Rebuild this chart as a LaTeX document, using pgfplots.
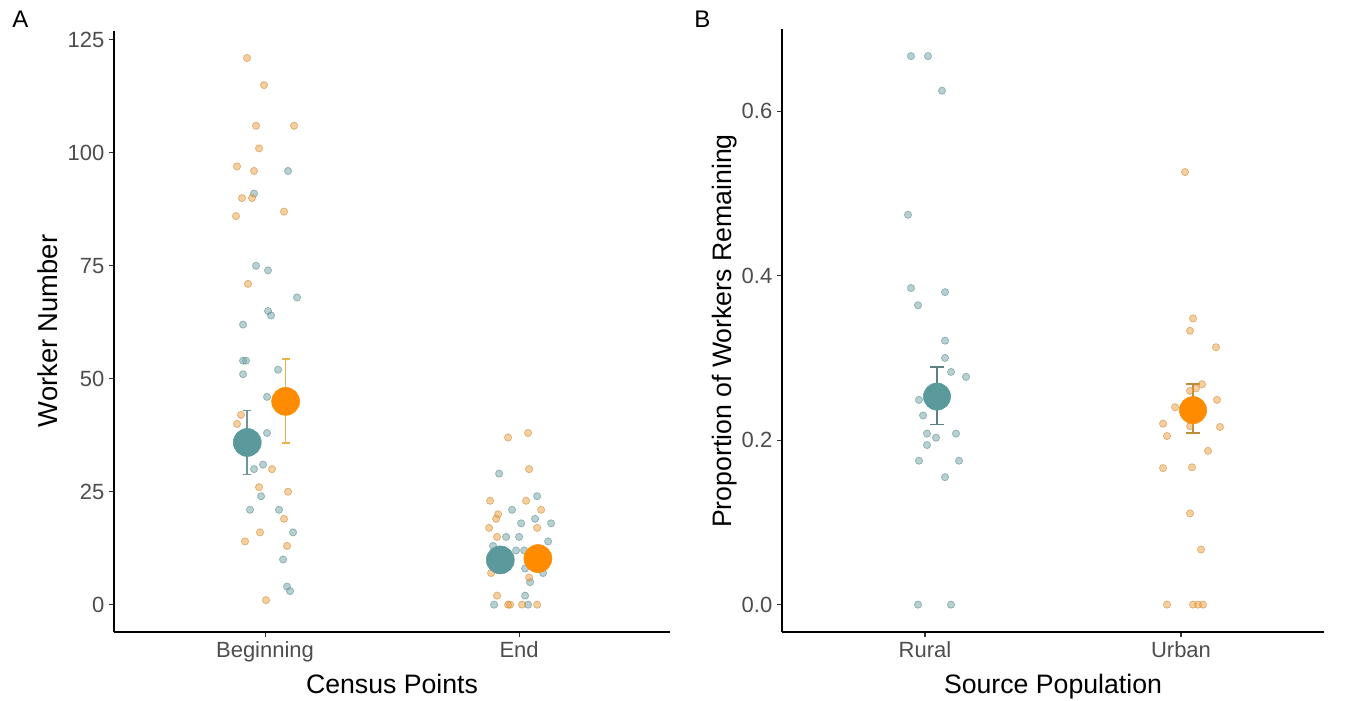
\documentclass[border=0pt]{standalone}
\usepackage{pgfplots}
\pgfplotsset{compat=1.18}
\usepackage{fontspec}
\setmainfont{Liberation Sans}
\definecolor{tealM}{HTML}{5A9A9C}
\definecolor{orgM}{HTML}{FF8C00}
\definecolor{tealP}{HTML}{6FA3A8}
\definecolor{orgP}{HTML}{F0A040}
\definecolor{tealE}{HTML}{6F959B}
\definecolor{orgE}{HTML}{EDB24A}
\definecolor{tickc}{HTML}{333333}
\definecolor{labc}{HTML}{4D4D4D}
\pgfplotsset{
  base/.style={
    scale only axis,
    axis x line*=bottom, axis y line*=left,
    axis line style={-, black, line width=0.8pt},
    tick align=outside,
    major tick length=3.75pt,
    tick style={color=tickc, line width=0.8pt},
    ticklabel style={font=\fontsize{16.5}{18}\selectfont, color=labc},
    /pgf/number format/assume math mode=true,
    clip=false,
    xtick={1,2},
  },
  pts/.style={only marks, mark=*, mark size=2.7pt,
    mark options={fill=#1, fill opacity=0.5, draw=#1!85!black, draw opacity=0.55, line width=0.6pt}},
}
\begin{document}
\begin{tikzpicture}
\path[use as bounding box] (0,0) rectangle (1013.25pt,525pt);
% ---------------- Panel A
\begin{axis}[base, at={(85.5pt,51pt)}, anchor=south west,
  width=417pt, height=451pt,
  xmin=0.4055, xmax=2.594, ymin=-6.05, ymax=127.05,
  xticklabels={Beginning,End},
  ytick={0,25,50,75,100,125}]
\addplot[pts=tealP] coordinates {
(1.0906,96) (0.9567,91) (0.9646,75) (1.0118,74) (1.1260,68) (1.0118,65)
(1.0236,64) (0.9134,62) (0.9134,54) (0.9252,54) (0.9134,51) (1.0512,52)
(1.0079,46) (1.0079,38) (0.9921,31) (0.9567,30) (0.9843,24) (0.9409,21)
(1.0551,21) (1.1102,16) (1.0709,10) (1.0866,4) (1.0984,3)
(1.9213,29) (2.0709,24) (1.9724,21) (2.0630,19) (2.0079,18) (2.1260,18)
(1.9488,15) (2.0000,15) (1.8976,13) (2.1142,14) (1.9882,12) (2.0197,12)
(2.0236,8) (2.0945,7) (2.0433,5) (2.0236,2) (1.9016,0) (2.0354,0)
};
\addplot[pts=orgP] coordinates {
(0.9291,121) (0.9961,115) (0.9646,106) (1.1142,106) (0.9764,101) (0.8898,97)
(0.9567,96) (0.9094,90) (0.9488,90) (0.8858,86) (1.0748,87) (0.9331,71)
(0.9055,42) (0.8898,40) (1.0276,30) (0.9764,26) (1.0906,25) (1.0748,19)
(0.9803,16) (0.9213,14) (1.0866,13) (1.0039,1)
(1.9567,37) (2.0354,38) (2.0394,30) (1.8858,23) (2.0276,23) (2.0866,21)
(1.9173,20) (1.9094,19) (1.8819,17) (2.0709,17) (1.9134,15) (1.8898,7)
(2.0394,6) (1.9134,2) (1.9567,0) (1.9646,0) (2.0118,0) (2.0709,0)
};
\addplot[only marks, mark=*, mark size=10.5pt, color=tealM,
  error bars/.cd, y dir=both, y explicit,
  error bar style={draw=tealE, line width=1.2pt},
  error mark options={draw=tealE, mark size=3pt, line width=1.2pt, rotate=90}]
coordinates {(0.930,35.9) += (0,7.1) -= (0,7.1) (1.926,9.9) += (0,1.5) -= (0,1.5)};
\addplot[only marks, mark=*, mark size=10.5pt, color=orgM,
  error bars/.cd, y dir=both, y explicit,
  error bar style={draw=orgE, line width=1.2pt},
  error mark options={draw=orgE, mark size=3pt, line width=1.2pt, rotate=90}]
coordinates {(1.081,45.0) += (0,9.4) -= (0,9.2) (2.074,10.2) += (0,1.6) -= (0,1.6)};
\end{axis}
% ---------------- Panel B
\begin{axis}[base, at={(586.5pt,51pt)}, anchor=south west,
  width=406.5pt, height=452.25pt,
  xmin=0.4414, xmax=2.5586, ymin=-0.0333, ymax=0.7,
  xticklabels={Rural,Urban},
  ytick={0,0.2,0.4,0.6},
  yticklabel style={/pgf/number format/.cd, fixed, fixed zerofill, precision=1}]
\addplot[pts=tealP] coordinates {
(0.9453,0.667) (1.0117,0.667) (1.0664,0.625) (0.9336,0.474) (0.9453,0.385)
(1.0781,0.380) (0.9727,0.364) (1.0781,0.321) (1.0781,0.300) (1.1016,0.283)
(1.1602,0.277) (0.9766,0.249) (0.9922,0.230) (1.0078,0.208) (1.0430,0.203)
(1.1211,0.208) (1.0078,0.194) (0.9766,0.175) (1.1328,0.175) (1.0781,0.155)
(0.9727,0) (1.1016,0)
};
\addplot[pts=orgP] coordinates {
(2.0156,0.526) (2.0469,0.348) (2.0352,0.333) (2.1367,0.313) (2.0820,0.268)
(2.0586,0.263) (2.0352,0.260) (2.1406,0.249) (1.9766,0.240) (1.9297,0.220)
(2.1523,0.216) (2.0352,0.217) (1.9453,0.205) (2.1055,0.187) (1.9297,0.166)
(2.0430,0.167) (2.0352,0.111) (2.0781,0.067) (1.9453,0) (2.0469,0)
(2.0664,0) (2.0859,0)
};
\addplot[only marks, mark=*, mark size=10.2pt, color=tealM,
  error bars/.cd, y dir=both, y explicit,
  error bar style={draw=tealE!85!black, line width=1.2pt},
  error mark options={draw=tealE!85!black, mark size=4.9pt, line width=1.2pt, rotate=90}]
coordinates {(1.0469,0.253) += (0,0.036) -= (0,0.034)};
\addplot[only marks, mark=*, mark size=10.2pt, color=orgM,
  error bars/.cd, y dir=both, y explicit,
  error bar style={draw=orgE!80!black, line width=1.2pt},
  error mark options={draw=orgE!80!black, mark size=4.9pt, line width=1.2pt, rotate=90}]
coordinates {(2.0469,0.2365) += (0,0.0315) -= (0,0.0275)};
\end{axis}
% ---------------- titles
\node[anchor=base, font=\fontsize{20}{22}\selectfont] at (294pt,5.25pt) {Census Points};
\node[anchor=base, font=\fontsize{20}{22}\selectfont] at (789.75pt,5.25pt) {Source Population};
\node[anchor=base, rotate=90, font=\fontsize{20.5}{22}\selectfont] at (42.75pt,276.75pt) {Worker Number};
\node[anchor=base, rotate=90, font=\fontsize{20}{22}\selectfont] at (548.25pt,276.75pt) {Proportion of Workers Remaining};
\node[anchor=base west, inner sep=0pt, font=\fontsize{18}{20}\selectfont] at (9pt,504pt) {A};
\node[anchor=base west, inner sep=0pt, font=\fontsize{18}{20}\selectfont] at (520.5pt,504pt) {B};
\end{tikzpicture}
\end{document}
